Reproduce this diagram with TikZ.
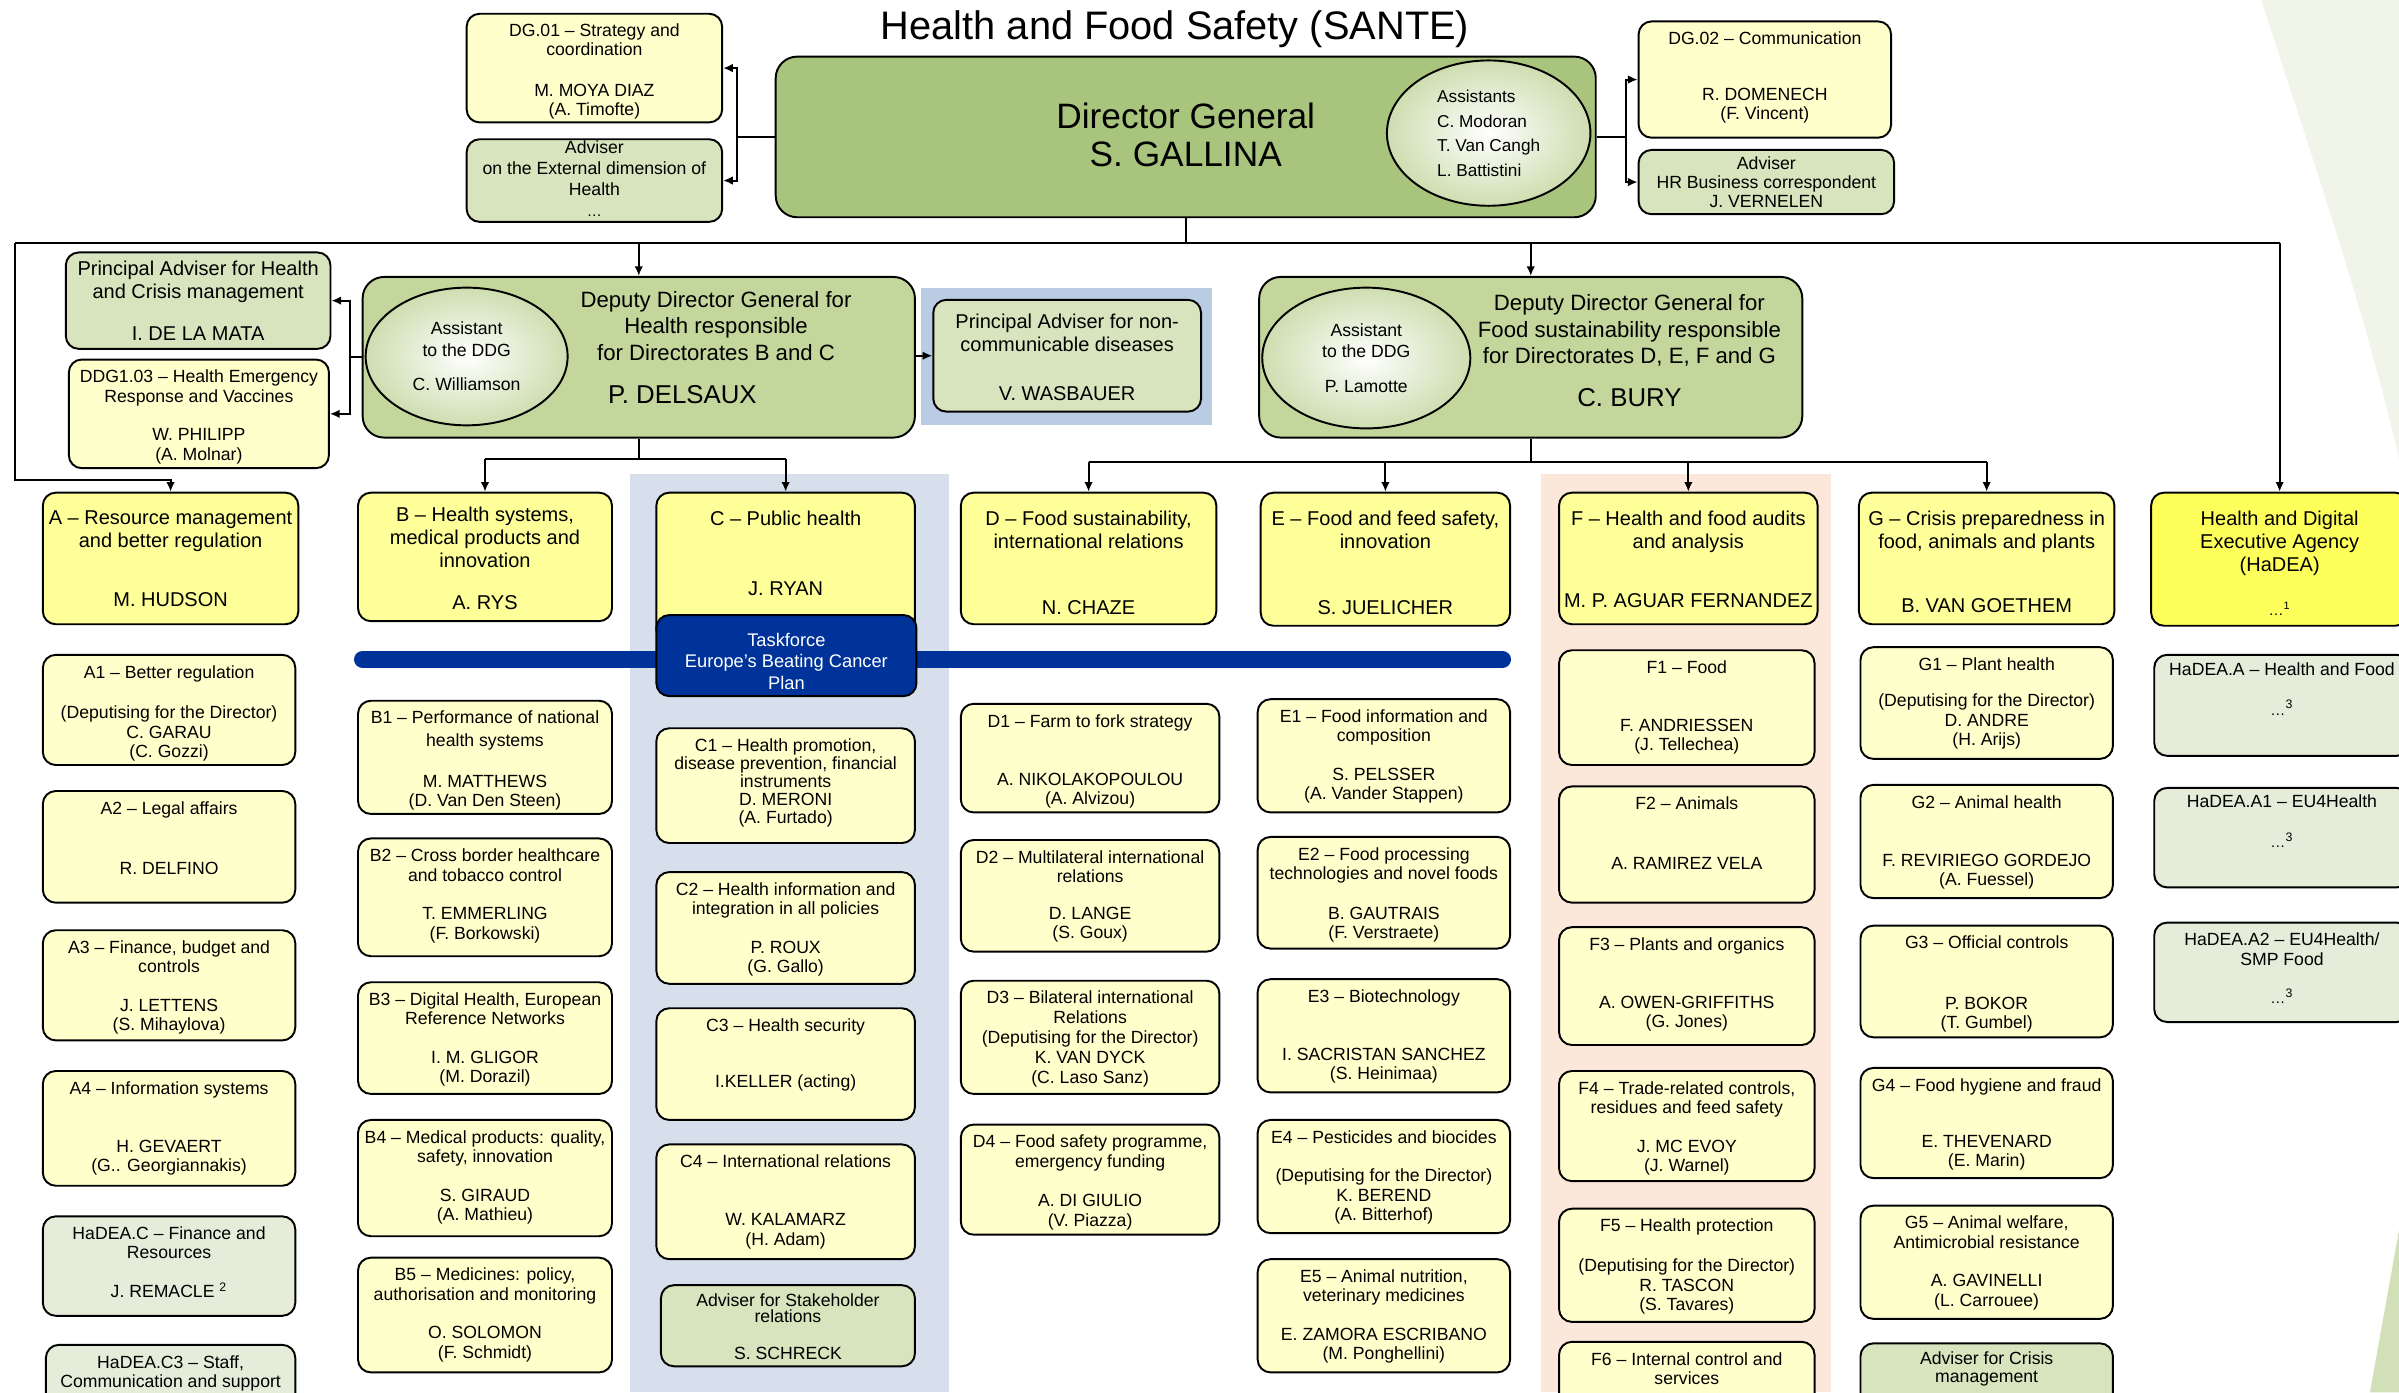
\documentclass[tikz,border=0pt]{standalone}
\usepackage{fontspec}
\setmainfont{Liberation Sans}
\usepackage{tikz}
\usetikzlibrary{shapes.geometric,arrows.meta,fit}

\definecolor{dggreen}{HTML}{A9C47C}
\definecolor{ddggreen}{HTML}{C3D69B}
\definecolor{advgreen}{HTML}{D7E4BD}
\definecolor{diryellow}{HTML}{FFFF99}
\definecolor{hadeayellow}{HTML}{FFFF5C}
\definecolor{unityellow}{HTML}{FFFFCC}
\definecolor{hadeagrey}{HTML}{E6ECDA}
\definecolor{tfblue}{HTML}{003399}
\definecolor{colblue}{HTML}{D6DFEB}
\definecolor{colpeach}{HTML}{FCE7DB}
\definecolor{ncdblue}{HTML}{B9CCE4}
\definecolor{swoosh}{HTML}{F1F5E9}
\definecolor{wedge}{HTML}{D2E0B8}

\tikzset{
  unitbox/.style={draw, line width=0.9pt, rounded corners=6pt, fill=unityellow, inner sep=0pt},
  dirbox/.style={unitbox, fill=diryellow},
  advbox/.style={unitbox, fill=advgreen},
  hadeabox/.style={unitbox, fill=hadeagrey},
  ddgbox/.style={unitbox, fill=ddggreen, rounded corners=10pt},
  utext/.style={anchor=north, yshift=-5.1pt, inner sep=0pt, align=center, font=\fontsize{8.2}{9}\selectfont},
  dtext/.style={anchor=north, yshift=-8.6pt, inner sep=0pt, align=center, font=\fontsize{9.3}{10.7}\selectfont},
  ddgtext/.style={align=center, font=\fontsize{10.3}{12.4}\selectfont},
  ddgname/.style={font=\fontsize{12}{14}\selectfont},
  asst/.style={ellipse, draw, line width=0.9pt, inner sep=0pt, align=center, inner color=white, outer color=advgreen!80!dggreen, font=\fontsize{8.2}{9}\selectfont},
  wire/.style={line width=0.9pt},
  link/.style={line width=0.9pt, -{Latex[length=4.5pt,width=4pt]}},
}

\begin{document}
\begin{tikzpicture}[x=0.25mm, y=-0.25mm]
        \useasboundingbox (0,0) rectangle (1568,910);
        \clip (0,0) rectangle (1568,910);

        %backgrounds
        \fill[swoosh] (1478,0) .. controls (1510,100) and (1545,200) .. (1568,300) -- (1568,0) -- cycle;
        \fill[wedge] (1568,804) -- (1549,910) -- (1568,910) -- cycle;
        \fill[colblue] (412,310) rectangle (620,910);
        \fill[colpeach] (1007,310) rectangle (1197,910);
        \fill[ncdblue] (602,188) rectangle (792,278);
        \coordinate (bandL) at (237,431);
        \coordinate (bandR) at (982,431);
        \draw[line width=8pt, tfblue, line cap=round] (bandL) -- (bandR);

        \node[font=\fontsize{18.5}{22}\selectfont] (title) at (768,19) {Health and Food Safety (SANTE)};

        %director general
        \node[unitbox, fill=dggreen, rounded corners=10pt, fit={(507,37)(1043,142)}] (dg) {};
        \node[align=center, font=\fontsize{16.4}{17.8}\selectfont] (dgt) at (775,88) {Director General\\S. GALLINA};
        \node[asst, align=left, font=\fontsize{8}{11.4}\selectfont, minimum width=133*0.25mm, minimum height=95*0.25mm] (dgasst) at (973,87) {Assistants\\C. Modoran\\T. Van Cangh\\L. Battistini};
        \node[unitbox, fit={(305,9)(472,80)}] (dg01) {};
        \node[utext] (dg01t) at (dg01.north) {DG.01 -- Strategy and\\[-0.5pt]coordination\\[10pt]M. MOYA DIAZ\\(A. Timofte)};
        \node[advbox, fit={(305,91)(472,145)}] (advext) {};
        \node[utext, yshift=4.3pt] (advextt) at (advext.north) {Adviser\\[1pt]on the External dimension of\\[0.5pt]Health\\[1pt]{\scriptsize\ldots}};
        \node[unitbox, fit={(1071,14)(1236,90)}] (dg02) {};
        \node[utext] (dg02t) at (dg02.north) {DG.02 -- Communication\\[17pt]R. DOMENECH\\(F. Vincent)};
        \node[advbox, fit={(1071,98)(1238,140)}] (advhr) {};
        \node[utext, yshift=1.9pt] (advhrt) at (advhr.north) {Adviser\\HR Business correspondent\\J. VERNELEN};

        %deputy directors general
        \node[advbox, fit={(43,165)(216,228)}] (padv) {};
        \node[dtext, yshift=4.5pt] (padvt) at (padv.north) {Principal Adviser for Health\\and Crisis management\\[9pt]I. DE LA MATA};
        \node[unitbox, fit={(45,235)(215,306)}] (ddg103) {};
        \node[utext] (ddg103t) at (ddg103.north) {DDG1.03 -- Health Emergency\\Response and Vaccines\\[9pt]W. PHILIPP\\(A. Molnar)};
        \node[ddgbox, fit={(237,181)(598,286)}] (ddgH) {};
        \node[asst, minimum width=132*0.25mm, minimum height=90*0.25mm] (ddgHasst) at (305,233) {Assistant\\[1pt]to the DDG\\[7pt]C. Williamson};
        \node[ddgtext] (ddgHt) at (468,213) {Deputy Director General for\\Health responsible\\for Directorates B and C};
        \node[ddgname] (ddgHname) at (446,258) {P. DELSAUX};
        \node[advbox, fit={(610,196)(785,269)}] (ncd) {};
        \node[dtext, yshift=1.7pt] (ncdt) at (ncd.north) {Principal Adviser for non-\\communicable diseases\\[12pt]V. WASBAUER};
        \node[ddgbox, fit={(823,181)(1178,286)}] (ddgF) {};
        \node[asst, minimum width=136*0.25mm, minimum height=92*0.25mm] (ddgFasst) at (893,234) {Assistant\\[1pt]to the DDG\\[7pt]P. Lamotte};
        \node[ddgtext] (ddgFt) at (1065,216) {Deputy Director General for\\Food sustainability responsible\\for Directorates D, E, F and G};
        \node[ddgname] (ddgFname) at (1065,260) {C. BURY};

        %directorates
        \node[dirbox, fit={(28,322)(195,408)}] (dirA) {};
        \node[dtext] (dirAt) at (dirA.north) {A -- Resource management\\and better regulation\\[17pt]M. HUDSON};
        \node[dirbox, fit={(234,322)(400,406)}] (dirB) {};
        \node[dtext, yshift=1.7pt] (dirBt) at (dirB.north) {B -- Health systems,\\medical products and\\innovation\\[9pt]A. RYS};
        \node[dirbox, fit={(429,322)(598,420)}] (dirC) {};
        \node[dtext] (dirCt) at (dirC.north) {C -- Public health\\[22pt]J. RYAN};
        \node[unitbox, fill=tfblue, fit={(429,402)(599,455)}] (tf) {};
        \node[utext, text=white, yshift=-3.5pt, font=\fontsize{8.5}{10}\selectfont] (tft) at (tf.north) {Taskforce\\Europe's Beating Cancer\\Plan};
        \node[dirbox, fit={(628,322)(795,408)}] (dirD) {};
        \node[dtext] (dirDt) at (dirD.north) {D -- Food sustainability,\\international relations\\[20pt]N. CHAZE};
        \node[dirbox, fit={(824,322)(987,409)}] (dirE) {};
        \node[dtext] (dirEt) at (dirE.north) {E -- Food and feed safety,\\innovation\\[20pt]S. JUELICHER};
        \node[dirbox, fit={(1019,322)(1188,408)}] (dirF) {};
        \node[dtext] (dirFt) at (dirF.north) {F -- Health and food audits\\and analysis\\[17pt]M. P. AGUAR FERNANDEZ};
        \node[dirbox, fit={(1215,322)(1382,408)}] (dirG) {};
        \node[dtext] (dirGt) at (dirG.north) {G -- Crisis preparedness in\\food, animals and plants\\[19pt]B. VAN GOETHEM};
        \node[dirbox, fill=hadeayellow, fit={(1406,322)(1574,409)}] (hadea) {};
        \node[dtext] (hadeat) at (hadea.north) {Health and Digital\\Executive Agency\\(HaDEA)\\[10pt]{\scriptsize\ldots\textsuperscript{1}}};

        %units A
        \node[unitbox, fit={(28,428)(193,500)}] (a1) {};
        \node[utext] (a1t) at (a1.north) {A1 -- Better regulation\\[10pt](Deputising for the Director)\\C. GARAU\\(C. Gozzi)};
        \node[unitbox, fit={(28,517)(193,590)}] (a2) {};
        \node[utext] (a2t) at (a2.north) {A2 -- Legal affairs\\[19pt]R. DELFINO};
        \node[unitbox, fit={(28,608)(193,680)}] (a3) {};
        \node[utext] (a3t) at (a3.north) {A3 -- Finance, budget and\\controls\\[9pt]J. LETTENS\\(S. Mihaylova)};
        \node[unitbox, fit={(28,700)(193,775)}] (a4) {};
        \node[utext] (a4t) at (a4.north) {A4 -- Information systems\\[18pt]H. GEVAERT\\(G.. Georgiannakis)};
        \node[hadeabox, fit={(28,795)(193,860)}] (hadeaC) {};
        \node[utext] (hadeaCt) at (hadeaC.north) {HaDEA.C -- Finance and\\Resources\\[9pt]J. REMACLE \textsuperscript{2}};
        \node[hadeabox, fit={(30,879)(193,945)}] (hadeaC3) {};
        \node[utext] (hadeaC3t) at (hadeaC3.north) {HaDEA.C3 -- Staff,\\Communication and support};

        %units B
        \node[unitbox, fit={(234,458)(400,532)}] (b1) {};
        \node[utext] (b1t) at (b1.north) {B1 -- Performance of national\\[1.5pt]health systems\\[10pt]M. MATTHEWS\\(D. Van Den Steen)};
        \node[unitbox, fit={(234,548)(400,625)}] (b2) {};
        \node[utext] (b2t) at (b2.north) {B2 -- Cross border healthcare\\and tobacco control\\[9pt]T. EMMERLING\\(F. Borkowski)};
        \node[unitbox, fit={(234,642)(400,715)}] (b3) {};
        \node[utext] (b3t) at (b3.north) {B3 -- Digital Health, European\\Reference Networks\\[9pt]I. M. GLIGOR\\(M. Dorazil)};
        \node[unitbox, fit={(234,732)(400,808)}] (b4) {};
        \node[utext] (b4t) at (b4.north) {B4 -- Medical products: quality,\\safety, innovation\\[9pt]S. GIRAUD\\(A. Mathieu)};
        \node[unitbox, fit={(234,822)(400,897)}] (b5) {};
        \node[utext] (b5t) at (b5.north) {B5 -- Medicines: policy,\\authorisation and monitoring\\[9pt]O. SOLOMON\\(F. Schmidt)};

        %units C
        \node[unitbox, fit={(429,476)(598,551)}] (c1) {};
        \node[utext] (c1t) at (c1.north) {C1 -- Health promotion,\\[-0.6pt]disease prevention, financial\\[-0.6pt]instruments\\[-0.6pt]D. MERONI\\[-0.6pt](A. Furtado)};
        \node[unitbox, fit={(429,570)(598,643)}] (c2) {};
        \node[utext] (c2t) at (c2.north) {C2 -- Health information and\\integration in all policies\\[9pt]P. ROUX\\(G. Gallo)};
        \node[unitbox, fit={(429,659)(598,732)}] (c3) {};
        \node[utext] (c3t) at (c3.north) {C3 -- Health security\\[17pt]I.KELLER (acting)};
        \node[unitbox, fit={(429,748)(598,823)}] (c4) {};
        \node[utext] (c4t) at (c4.north) {C4 -- International relations\\[18pt]W. KALAMARZ\\(H. Adam)};
        \node[advbox, fit={(432,840)(598,893)}] (advst) {};
        \node[utext, yshift=0.8pt] (advstt) at (advst.north) {Adviser for Stakeholder\\[-1.5pt]relations\\[8pt]S. SCHRECK};

        %units D
        \node[unitbox, fit={(628,460)(797,531)}] (d1) {};
        \node[utext] (d1t) at (d1.north) {D1 -- Farm to fork strategy\\[18pt]A. NIKOLAKOPOULOU\\(A. Alvizou)};
        \node[unitbox, fit={(628,549)(797,622)}] (d2) {};
        \node[utext] (d2t) at (d2.north) {D2 -- Multilateral international\\relations\\[8pt]D. LANGE\\(S. Goux)};
        \node[unitbox, fit={(628,641)(797,715)}] (d3) {};
        \node[utext] (d3t) at (d3.north) {D3 -- Bilateral international\\[0.3pt]Relations\\[0.3pt](Deputising for the Director)\\[0.3pt]K. VAN DYCK\\[0.3pt](C. Laso Sanz)};
        \node[unitbox, fit={(628,735)(797,807)}] (d4) {};
        \node[utext] (d4t) at (d4.north) {D4 -- Food safety programme,\\emergency funding\\[9.5pt]A. DI GIULIO\\(V. Piazza)};

        %units E
        \node[unitbox, fit={(822,457)(987,531)}] (e1) {};
        \node[utext] (e1t) at (e1.north) {E1 -- Food information and\\composition\\[9pt]S. PELSSER\\(A. Vander Stappen)};
        \node[unitbox, fit={(822,547)(987,620)}] (e2) {};
        \node[utext] (e2t) at (e2.north) {E2 -- Food processing\\technologies and novel foods\\[9.5pt]B. GAUTRAIS\\(F. Verstraete)};
        \node[unitbox, fit={(822,640)(987,714)}] (e3) {};
        \node[utext] (e3t) at (e3.north) {E3 -- Biotechnology\\[18pt]I. SACRISTAN SANCHEZ\\(S. Heinimaa)};
        \node[unitbox, fit={(822,732)(987,806)}] (e4) {};
        \node[utext] (e4t) at (e4.north) {E4 -- Pesticides and biocides\\[9pt](Deputising for the Director)\\K. BEREND\\(A. Bitterhof)};
        \node[unitbox, fit={(822,823)(987,897)}] (e5) {};
        \node[utext] (e5t) at (e5.north) {E5 -- Animal nutrition,\\veterinary medicines\\[9pt]E. ZAMORA ESCRIBANO\\(M. Ponghellini)};

        %units F
        \node[unitbox, fit={(1019,425)(1186,500)}] (f1) {};
        \node[utext] (f1t) at (f1.north) {F1 -- Food\\[18pt]F. ANDRIESSEN\\(J. Tellechea)};
        \node[unitbox, fit={(1019,514)(1186,590)}] (f2) {};
        \node[utext] (f2t) at (f2.north) {F2 -- Animals\\[19pt]A. RAMIREZ VELA};
        \node[unitbox, fit={(1019,606)(1186,683)}] (f3) {};
        \node[utext] (f3t) at (f3.north) {F3 -- Plants and organics\\[18pt]A. OWEN-GRIFFITHS\\(G. Jones)};
        \node[unitbox, fit={(1019,700)(1186,772)}] (f4) {};
        \node[utext] (f4t) at (f4.north) {F4 -- Trade-related controls,\\residues and feed safety\\[9pt]J. MC EVOY\\(J. Warnel)};
        \node[unitbox, fit={(1019,790)(1186,864)}] (f5) {};
        \node[utext] (f5t) at (f5.north) {F5 -- Health protection\\[9.5pt](Deputising for the Director)\\R. TASCON\\(S. Tavares)};
        \node[unitbox, fit={(1019,877)(1186,945)}] (f6) {};
        \node[utext] (f6t) at (f6.north) {F6 -- Internal control and\\services};

        %units G
        \node[unitbox, fit={(1216,423)(1381,496)}] (g1) {};
        \node[utext] (g1t) at (g1.north) {G1 -- Plant health\\[8pt](Deputising for the Director)\\D. ANDRE\\(H. Arijs)};
        \node[unitbox, fit={(1216,513)(1381,587)}] (g2) {};
        \node[utext] (g2t) at (g2.north) {G2 -- Animal health\\[18pt]F. REVIRIEGO GORDEJO\\(A. Fuessel)};
        \node[unitbox, fit={(1216,605)(1381,678)}] (g3) {};
        \node[utext] (g3t) at (g3.north) {G3 -- Official controls\\[19pt]P. BOKOR\\(T. Gumbel)};
        \node[unitbox, fit={(1216,698)(1381,770)}] (g4) {};
        \node[utext] (g4t) at (g4.north) {G4 -- Food hygiene and fraud\\[17pt]E. THEVENARD\\(E. Marin)};
        \node[unitbox, fit={(1216,788)(1381,862)}] (g5) {};
        \node[utext] (g5t) at (g5.north) {G5 -- Animal welfare,\\Antimicrobial resistance\\[9pt]A. GAVINELLI\\(L. Carrouee)};
        \node[advbox, fit={(1216,878)(1381,945)}] (advcr) {};
        \node[utext, yshift=0.8pt] (advcrt) at (advcr.north) {Adviser for Crisis\\[-1pt]management};

        %units HaDEA
        \node[hadeabox, fit={(1408,428)(1575,494)}] (hadeaA) {};
        \node[utext, yshift=1.3pt] (hadeaAt) at (hadeaA.north) {HaDEA.A -- Health and Food\\[9.5pt]{\scriptsize\ldots}\textsuperscript{3}};
        \node[hadeabox, fit={(1408,515)(1575,580)}] (hadeaA1) {};
        \node[utext, yshift=1.8pt] (hadeaA1t) at (hadeaA1.north) {HaDEA.A1 -- EU4Health\\[9.5pt]{\scriptsize\ldots}\textsuperscript{3}};
        \node[hadeabox, fit={(1408,603)(1575,668)}] (hadeaA2) {};
        \node[utext] (hadeaA2t) at (hadeaA2.north) {HaDEA.A2 -- EU4Health/\\SMP Food\\[9pt]{\scriptsize\ldots}\textsuperscript{3}};

        %connectors
        \coordinate (dgL) at (482,89.5);
        \coordinate (dgR) at (1063,89.5);
        \draw[wire] (dg.west) -- (dgL);
        \draw[link] (dgL) |- (dg01.east);
        \draw[link] (dgL) |- (advext.east);
        \draw[wire] (dg.east) -- (dgR);
        \draw[link] (dgR) |- (dg02.west);
        \draw[link] (dgR) |- (advhr.west);

        \coordinate (busL) at (10,159);
        \coordinate (busR) at (1490,159);
        \coordinate (turnA) at (10,314);
        \draw[wire] (dg.south) -- (dg.south |- busL);
        \draw[wire] (busL) -- (busR);
        \draw[link] (busL) -- (turnA) -| (dirA.north);
        \draw[link] (ddgH.north |- busL) -- (ddgH.north);
        \draw[link] (ddgF.north |- busL) -- (ddgF.north);
        \draw[link] (busR) -- (hadea.north);

        \coordinate (ddgHL) at (229,233.5);
        \draw[wire] (ddgH.west) -- (ddgHL);
        \draw[link] (ddgHL) |- (padv.east);
        \draw[link] (ddgHL) |- (ddg103.east);
        \draw[link] (ddgH.east |- ncd.west) -- (ncd.west);

        \coordinate (ddgHbus) at (417.5,300);
        \draw[wire] (ddgH.south) -- (ddgHbus);
        \draw[wire] (dirB.north |- ddgHbus) -- (dirC.north |- ddgHbus);
        \draw[link] (dirB.north |- ddgHbus) -- (dirB.north);
        \draw[link] (dirC.north |- ddgHbus) -- (dirC.north);

        \coordinate (ddgFbus) at (1000.5,302);
        \draw[wire] (ddgF.south) -- (ddgFbus);
        \draw[wire] (dirD.north |- ddgFbus) -- (dirG.north |- ddgFbus);
        \draw[link] (dirD.north |- ddgFbus) -- (dirD.north);
        \draw[link] (dirE.north |- ddgFbus) -- (dirE.north);
        \draw[link] (dirF.north |- ddgFbus) -- (dirF.north);
        \draw[link] (dirG.north |- ddgFbus) -- (dirG.north);
\end{tikzpicture}
\end{document}
